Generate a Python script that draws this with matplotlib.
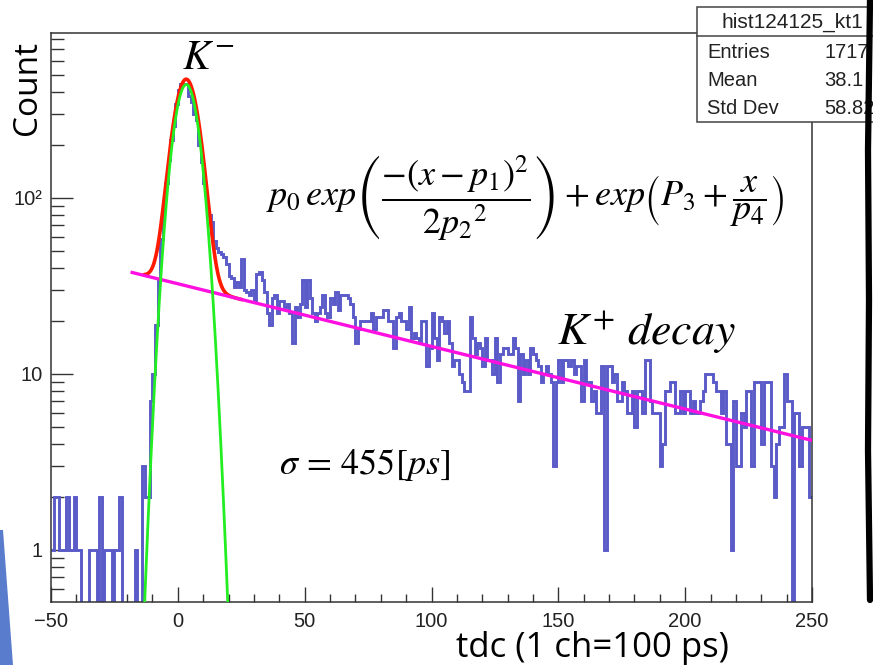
import numpy as np
import matplotlib
matplotlib.use('Agg')
import matplotlib.pyplot as plt
from matplotlib.ticker import MultipleLocator, LogLocator, FixedLocator, FixedFormatter, NullFormatter
from matplotlib.patches import Rectangle, Polygon
from matplotlib.lines import Line2D

plt.rcParams['mathtext.fontset'] = 'stix'
plt.rcParams['font.family'] = ['Liberation Sans', 'DejaVu Sans']

# tdc histogram, 1 channel per bin, from -50 to 250
bin_lo = -50
bin_hi = 250
counts = [
    1, 2, 2, 1, 1, 1, 2, 1, 1, 2,              # -50 .. -41
    1, 1, 0, 0, 0, 1, 1, 1, 0, 2,              # -40 .. -31
    0, 1, 1, 1, 0, 1, 1, 2, 0, 0,              # -30 .. -21
    0, 0, 0, 1, 0, 0, 3, 2, 2, 7,              # -20 .. -11
    10, 19, 34, 58, 89, 122, 163, 214, 256, 340,  # -10 .. -1
    412, 440, 445, 440, 377, 352, 300, 276, 200, 160,  # 0 .. 9
    122, 95, 80, 73, 57, 52, 49, 48, 46, 42,   # 10 .. 19
    36, 35, 31, 33, 31, 45, 30, 29, 28, 30,    # 20 .. 29
    26, 37, 38, 34, 29, 22, 19, 27, 28, 22,    # 30 .. 39
    26, 26, 24, 25, 22, 15, 24, 21, 25, 34,    # 40 .. 49
    24, 34, 27, 22, 20, 22, 24, 28, 22, 21,    # 50 .. 59
    27, 25, 29, 23, 28, 28, 28, 27, 25, 21,    # 60 .. 69
    15, 18, 20, 20, 20, 20, 22, 18, 21, 21,    # 70 .. 79
    21, 23, 23, 20, 20, 14, 21, 22, 20, 20,    # 80 .. 89
    18, 24, 16, 17, 16, 15, 20, 20, 11, 14,    # 90 .. 99
    22, 16, 12, 21, 20, 17, 20, 15, 11, 12,    # 100 .. 109
    12, 10, 9, 8, 8, 21, 16, 13, 15, 14,       # 110 .. 119
    11, 16, 12, 12, 10, 16, 9, 13, 14, 14,     # 120 .. 129
    13, 13, 16, 14, 7, 13, 10, 12, 10, 14,     # 130 .. 139
    13, 12, 11, 9, 10, 11, 10, 9, 3, 9,        # 140 .. 149
    12, 9, 12, 12, 11, 12, 10, 11, 11, 7,      # 150 .. 159
    12, 9, 9, 7, 8, 6, 6, 11, 1, 11,           # 160 .. 169
    11, 9, 10, 7, 7, 9, 8, 6, 6, 8,            # 170 .. 179
    5, 8, 8, 6, 12, 12, 7, 6, 6, 6,            # 180 .. 189
    3, 4, 8, 8, 9, 9, 6, 6, 8, 6,              # 190 .. 199
    8, 8, 6, 7, 6, 6, 7, 8, 10, 10,            # 200 .. 209
    10, 9, 8, 8, 6, 8, 4, 4, 1, 7,             # 210 .. 219
    3, 3, 6, 5, 8, 8, 3, 9, 9, 9,              # 220 .. 229
    4, 9, 9, 9, 3, 2, 4, 5, 5, 10,             # 230 .. 239
    7, 7, 0, 6, 6, 3, 5, 5, 5, 2,              # 240 .. 249
]

# fit parameters
p0 = 440.0     # gauss height
p1 = 3.3       # gauss mean
p2 = 4.45      # gauss sigma
P3 = 3.48      # exp offset
p4 = -122.0    # exp slope
red_range = (-13, 25)
bkg_range = (-18, 250)
green_range = (-20, 26)

stats_title = 'hist124125_kt1'
stats_rows = [('Entries', '1717'), ('Mean', '38.1'), ('Std Dev', '58.82')]

W, H = 873, 665


def fx(px):
    return px / W


def fy(py):
    return 1 - py / H


def gauss(x):
    return p0 * np.exp(-(x - p1) ** 2 / (2 * p2 ** 2))


def expo(x):
    return np.exp(P3 + x / p4)


fig = plt.figure(figsize=(W / 100, H / 100), dpi=100)
ax = fig.add_axes([fx(51), fy(602), (812 - 51) / W, (602 - 33) / H])

edges = np.arange(bin_lo, bin_hi + 1)
vals = np.array(counts, dtype=float)
vals = np.where(vals > 0, vals, 1e-3)
ax.stairs(vals, edges, baseline=None, color='#5a5ac8', lw=2.1, zorder=2)

xr = np.linspace(red_range[0], red_range[1], 400)
ax.plot(xr, gauss(xr) + expo(xr), color='#ff1a00', lw=2.6, zorder=3)
xb = np.linspace(bkg_range[0], bkg_range[1], 400)
ax.plot(xb, expo(xb), color='#ff10e0', lw=2.4, zorder=4)
xg = np.linspace(green_range[0], green_range[1], 400)
ax.plot(xg, gauss(xg), color='#22ee22', lw=2.0, zorder=5)

ax.set_xlim(bin_lo, bin_hi)
ax.set_yscale('log')
ax.set_ylim(0.505, 863)

ax.xaxis.set_major_locator(MultipleLocator(50))
ax.xaxis.set_minor_locator(MultipleLocator(10))
ax.yaxis.set_major_locator(FixedLocator([1, 10, 100]))
ax.yaxis.set_major_formatter(FixedFormatter(['1', '10', '10²']))
ax.yaxis.set_minor_locator(LogLocator(base=10, subs=np.arange(2, 10)))
ax.yaxis.set_minor_formatter(NullFormatter())

ax.tick_params(axis='both', which='both', direction='in', top=False, right=False,
               color='#333333', labelcolor='#222222', labelsize=14.5)
ax.tick_params(axis='x', which='major', length=11, width=1, pad=7)
ax.tick_params(axis='x', which='minor', length=6, width=1)
ax.tick_params(axis='y', which='major', length=16, width=1, pad=6)
ax.tick_params(axis='y', which='minor', length=9, width=1)
for sp in ax.spines.values():
    sp.set_color('#333333')
    sp.set_linewidth(1.1)

# annotations
fig.text(fx(208), fy(58), r'$K^{-}$', fontsize=30, ha='center', va='center')
fig.text(fx(525), fy(198),
         r'$p_0\,exp\left(\dfrac{-(x-p_1)^2}{2{p_2}^2}\right)+exp\left(P_3+\dfrac{x}{p_4}\right)$',
         fontsize=26, ha='center', va='center')
fig.text(fx(646), fy(333), r'$K^{+}\ decay$', fontsize=33, ha='center', va='center')
fig.text(fx(365), fy(465), r'$\sigma\,=\,455[ps]$', fontsize=26, ha='center', va='center')

fig.text(fx(27), fy(88), 'Count', rotation=90, family='Open Sans', fontsize=24,
         ha='center', va='center')
fig.text(fx(592), fy(657), 'tdc (1 ch=100 ps)', family='Open Sans', fontsize=25,
         ha='center', va='baseline')

# stats box
box_l, box_r, box_t, box_m, box_b = 697, 895, 7, 36, 122
fig.add_artist(Rectangle((fx(box_l), fy(box_b)), (box_r - box_l) / W, (box_b - box_t) / H,
                         transform=fig.transFigure, facecolor='white',
                         edgecolor='#444444', lw=1.1, zorder=5))
fig.add_artist(Line2D([fx(box_l), fx(box_r)], [fy(box_m), fy(box_m)],
                      transform=fig.transFigure, color='#444444', lw=1.1, zorder=6))
fig.text(fx(792), fy(22), stats_title, fontsize=15, ha='center', va='center',
         color='#222222', zorder=7)
for i, (lab, val) in enumerate(stats_rows):
    yy = fy(53 + 28 * i)
    fig.text(fx(707), yy, lab, fontsize=14.5, ha='left', va='center', color='#222222', zorder=7)
    fig.text(fx(824), yy, val, fontsize=14.5, ha='left', va='center', color='#222222', zorder=7)

# slide decorations: black stroke on the right, blue sliver at bottom left
fig.add_artist(Line2D([fx(870), fx(868), fx(869), fx(868), fx(870)],
                      [fy(0), fy(150), fy(300), fy(450), fy(600)],
                      transform=fig.transFigure, color='black', lw=4.5,
                      solid_capstyle='round', zorder=8))
fig.add_artist(Polygon([(fx(0), fy(530)), (fx(3), fy(530)), (fx(13), fy(665)), (fx(0), fy(665))],
                       closed=True, transform=fig.transFigure, facecolor='#5a7ccc',
                       edgecolor='none', zorder=8))

fig.savefig('out.png', dpi=100)
